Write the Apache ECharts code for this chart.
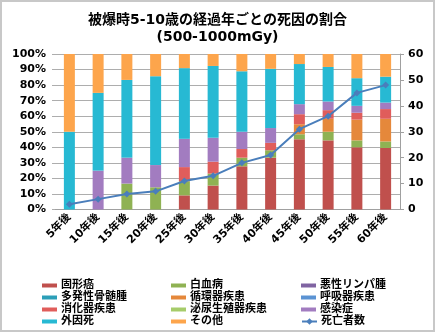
<!DOCTYPE html>
<html><head><meta charset="utf-8">
<script src="https://cdn.jsdelivr.net/npm/echarts@6/dist/echarts.min.js"></script>
<style>html,body{margin:0;padding:0;background:#fff}#c{width:435px;height:332px}</style>
</head><body><div id="c"></div>
<script>
const categories = ['5年後','10年後','15年後','20年後','25年後','30年後','35年後','40年後','45年後','50年後','55年後','60年後'];
const solidCancer   = [0,0,0,0,1,2,5,7,14,16,18,19];
const leukemia      = [0,0,1,1,1,1,1,1,1,2,2,2];
const lymphoma      = [0,0,0,0,0,0,0,0,0,0,0,0];
const myeloma       = [0,0,0,0,0,0,0,0,0,0,0,0];
const circulatory   = [0,0,0,0,0,0,0,0,2,3,6,7];
const respiratory   = [0,0,0,0,0,0,0,0,0,0,0,0];
const digestive     = [0,0,0,0,1,1,1,1,2,2,2,3];
const urogenital    = [0,0,0,0,0,0,0,0,0,0,0,0];
const infection     = [0,1,1,1,2,2,2,2,2,2,2,2];
const external      = [1,2,3,4,5,6,7,8,8,8,8,8];
const other         = [1,1,1,1,1,1,2,2,2,3,7,7];
const deaths        = [2,4,6,7,11,13,18,21,31,36,45,48];
const leftTicks = [0,10,20,30,40,50,60,70,80,90,100];
const rightTicks = [0,10,20,30,40,50,60];

const causes = [
  ['固形癌', solidCancer, '#C0504D'],
  ['白血病', leukemia, '#8FB253'],
  ['悪性リンパ腫', lymphoma, '#8064A2'],
  ['多発性骨髄腫', myeloma, '#2C9FB8'],
  ['循環器疾患', circulatory, '#E5883B'],
  ['呼吸器疾患', respiratory, '#5B93D3'],
  ['消化器疾患', digestive, '#E05D5B'],
  ['泌尿生殖器疾患', urogenital, '#A6CC6A'],
  ['感染症', infection, '#A27CC0'],
  ['外因死', external, '#27B9D3'],
  ['その他', other, '#FDA54C']
];
const totals = categories.map((_, i) => causes.reduce((s, c) => s + c[1][i], 0));
const FONT = 'DejaVu Sans, "Noto Sans CJK JP", sans-serif';
const series = causes.map(([name, arr, color]) => ({
  name, type: 'bar', stack: 'all', yAxisIndex: 0, barWidth: 11,
  itemStyle: { color },
  data: arr.map((v, i) => totals[i] ? v / totals[i] * 100 : 0)
}));
series.push({
  name: '死亡者数', type: 'line', yAxisIndex: 1, data: deaths,
  symbol: 'diamond', symbolSize: 7,
  lineStyle: { color: '#4A7EBB', width: 2 }, itemStyle: { color: '#4A7EBB' }
});
const legendBase = {
  orient: 'vertical', itemWidth: 15, itemHeight: 4, itemGap: 1, icon: 'rect',
  textStyle: { fontFamily: FONT, fontSize: 11, fontWeight: 'bold', color: '#000', lineHeight: 11, padding: [0,0,0,-1] },
  padding: 0, selectedMode: false
};
const chart = echarts.init(document.getElementById('c'), null, { renderer: 'canvas' });
chart.setOption({
  animation: false,
  backgroundColor: '#fff',
  graphic: [{ type: 'rect', shape: { x: 1, y: 1, width: 433, height: 330 }, style: { fill: 'none', stroke: '#C8C8C8', lineWidth: 2 }, z: 100 }],
  title: {
    text: '被爆時5-10歳の経過年ごとの死因の割合\n(500-1000mGy)', left: 'center', top: 7,
    textStyle: { fontFamily: FONT, fontSize: 14, fontWeight: 'bold', color: '#000', lineHeight: 17 }
  },
  legend: [
    Object.assign({}, legendBase, { left: 42, top: 280, data: ['固形癌','多発性骨髄腫','消化器疾患','外因死'] }),
    Object.assign({}, legendBase, { left: 171, top: 280, data: ['白血病','循環器疾患','泌尿生殖器疾患','その他'] }),
    Object.assign({}, legendBase, { left: 301, top: 280, data: ['悪性リンパ腫','呼吸器疾患','感染症'] }),
    Object.assign({}, legendBase, { left: 301, top: 316, itemHeight: 8, icon: null, data: ['死亡者数'] })
  ],
  grid: { left: 55, right: 35, top: 54, bottom: 122.5, containLabel: false },
  xAxis: {
    type: 'category', data: categories,
    axisLine: { lineStyle: { color: '#A0A0A0' } },
    axisTick: { length: 4, lineStyle: { color: '#A0A0A0' } },
    axisLabel: { rotate: 45, margin: 6, interval: 0, fontFamily: FONT, fontSize: 11, fontWeight: 'bold', color: '#000' }
  },
  yAxis: [
    { type: 'value', min: leftTicks[0], max: leftTicks[leftTicks.length-1], interval: 10,
      axisLine: { show: false }, axisTick: { show: true, length: 3, lineStyle: { color: '#ADADAD' } },
      splitLine: { lineStyle: { color: '#ADADAD' } },
      axisLabel: { formatter: '{value}%', margin: 9, fontFamily: FONT, fontSize: 11, fontWeight: 'bold', color: '#000' } },
    { type: 'value', min: rightTicks[0], max: rightTicks[rightTicks.length-1], interval: 10, position: 'right',
      axisLine: { show: true, lineStyle: { color: '#A0A0A0' } }, axisTick: { show: true, length: 4, lineStyle: { color: '#A0A0A0' } },
      splitLine: { show: false },
      axisLabel: { margin: 8, fontFamily: FONT, fontSize: 11, fontWeight: 'bold', color: '#000' } }
  ],
  series
});
</script></body></html>
